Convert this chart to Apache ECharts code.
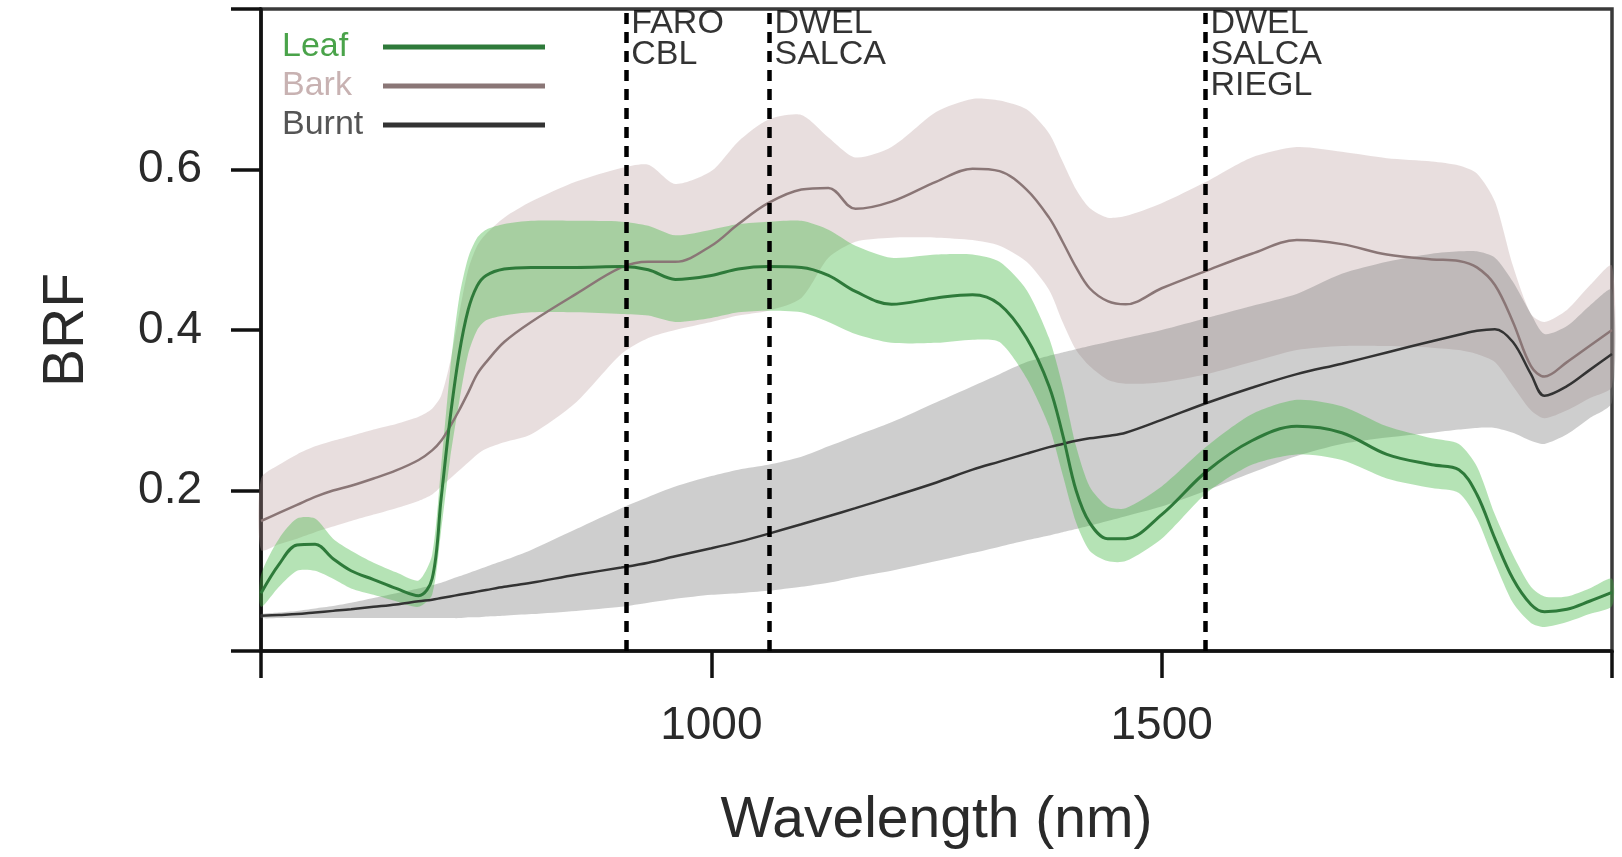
<!DOCTYPE html>
<html>
<head>
<meta charset="utf-8">
<script src="https://cdn.jsdelivr.net/npm/echarts@6/dist/echarts.min.js"></script>
<style>
html,body{margin:0;padding:0;background:#fff;}
#chart{width:1622px;height:857px;}
</style>
</head>
<body>
<div id="chart"></div>
<script>
// ---- data ----
const wavelengths = [500,520,540,560,580,600,625,650,675,690,700,710,720,730,740,750,770,800,850,900,930,960,1000,1030,1063,1100,1130,1160,1200,1250,1290,1320,1350,1375,1390,1405,1420,1440,1460,1500,1550,1600,1650,1700,1750,1800,1830,1850,1870,1890,1910,1925,1950,1975,2000];

const leafMean  = [0.072,0.108,0.132,0.133,0.115,0.100,0.089,0.078,0.069,0.090,0.190,0.290,0.370,0.425,0.455,0.468,0.476,0.478,0.478,0.479,0.475,0.463,0.468,0.476,0.479,0.478,0.468,0.448,0.432,0.440,0.444,0.432,0.390,0.330,0.270,0.200,0.160,0.140,0.140,0.170,0.224,0.262,0.280,0.272,0.245,0.232,0.226,0.195,0.140,0.090,0.058,0.049,0.052,0.062,0.073];
const leafUpper = [0.095,0.140,0.165,0.165,0.140,0.125,0.110,0.098,0.088,0.120,0.230,0.350,0.440,0.490,0.515,0.525,0.532,0.536,0.536,0.535,0.530,0.518,0.525,0.532,0.535,0.536,0.525,0.505,0.490,0.494,0.494,0.485,0.450,0.390,0.330,0.255,0.205,0.180,0.178,0.205,0.255,0.295,0.313,0.305,0.280,0.265,0.258,0.230,0.170,0.120,0.080,0.068,0.068,0.078,0.090];
const leafLower = [0.055,0.080,0.100,0.100,0.090,0.078,0.070,0.062,0.055,0.070,0.150,0.240,0.310,0.370,0.400,0.412,0.418,0.422,0.422,0.420,0.418,0.410,0.415,0.422,0.424,0.422,0.410,0.395,0.384,0.384,0.388,0.385,0.340,0.280,0.220,0.160,0.125,0.112,0.112,0.140,0.197,0.232,0.245,0.238,0.215,0.203,0.197,0.165,0.110,0.060,0.035,0.030,0.036,0.046,0.056];

const barkMean  = [0.162,0.172,0.182,0.192,0.200,0.206,0.215,0.225,0.238,0.250,0.262,0.280,0.300,0.322,0.345,0.360,0.385,0.410,0.445,0.478,0.485,0.485,0.505,0.532,0.558,0.575,0.577,0.551,0.560,0.585,0.601,0.598,0.575,0.540,0.510,0.478,0.452,0.436,0.432,0.452,0.474,0.495,0.512,0.507,0.494,0.488,0.486,0.478,0.456,0.410,0.355,0.342,0.360,0.380,0.400];
const barkUpper = [0.215,0.232,0.245,0.255,0.262,0.268,0.276,0.283,0.292,0.302,0.318,0.360,0.420,0.475,0.505,0.520,0.540,0.560,0.585,0.602,0.606,0.582,0.598,0.635,0.662,0.668,0.640,0.615,0.628,0.672,0.688,0.686,0.675,0.645,0.610,0.575,0.552,0.540,0.542,0.558,0.585,0.615,0.628,0.622,0.614,0.610,0.605,0.595,0.560,0.480,0.420,0.410,0.425,0.455,0.480];
const barkLower = [0.126,0.133,0.140,0.148,0.155,0.162,0.170,0.178,0.187,0.195,0.205,0.215,0.225,0.235,0.245,0.252,0.260,0.270,0.310,0.370,0.390,0.400,0.410,0.418,0.424,0.440,0.490,0.510,0.515,0.515,0.512,0.505,0.485,0.450,0.410,0.375,0.355,0.338,0.333,0.335,0.345,0.360,0.375,0.380,0.380,0.378,0.375,0.370,0.360,0.330,0.300,0.290,0.300,0.315,0.330];

const burntMean  = [0.044,0.045,0.046,0.048,0.050,0.052,0.055,0.058,0.062,0.064,0.066,0.068,0.070,0.072,0.074,0.076,0.080,0.085,0.095,0.104,0.110,0.118,0.128,0.136,0.146,0.158,0.168,0.178,0.192,0.210,0.226,0.236,0.246,0.254,0.258,0.262,0.265,0.268,0.272,0.288,0.309,0.328,0.345,0.358,0.372,0.386,0.394,0.399,0.401,0.385,0.345,0.318,0.330,0.350,0.370];
const burntUpper = [0.046,0.048,0.050,0.053,0.056,0.060,0.066,0.072,0.078,0.082,0.085,0.089,0.093,0.097,0.101,0.105,0.113,0.126,0.152,0.178,0.192,0.205,0.218,0.226,0.232,0.242,0.255,0.268,0.285,0.310,0.330,0.345,0.360,0.368,0.372,0.376,0.380,0.385,0.390,0.400,0.415,0.430,0.445,0.470,0.485,0.495,0.498,0.498,0.490,0.460,0.420,0.395,0.405,0.430,0.450];
const burntLower = [0.041,0.041,0.041,0.041,0.041,0.041,0.041,0.041,0.041,0.041,0.041,0.041,0.041,0.042,0.042,0.043,0.044,0.046,0.050,0.055,0.060,0.065,0.070,0.072,0.075,0.080,0.085,0.092,0.100,0.112,0.122,0.130,0.138,0.144,0.148,0.152,0.156,0.162,0.168,0.180,0.200,0.222,0.243,0.258,0.266,0.272,0.276,0.278,0.278,0.272,0.262,0.258,0.270,0.290,0.310];

const laserWavelengths = [905, 1064, 1548];
const laserLabels = ['FARO\nCBL', 'DWEL\nSALCA', 'DWEL\nSALCA\nRIEGL'];

const xTickLabels = [1000, 1500];
const yTickLabels = [0.2, 0.4, 0.6];

const seriesNames = ['Leaf', 'Bark', 'Burnt'];
const legendTextColors = ['#4aa34a', '#c8b2b2', '#555555'];

// ---- chart ----
const FONT = "'Liberation Sans', Arial, Helvetica, sans-serif";
const chart = echarts.init(document.getElementById('chart'), null, {renderer: 'canvas'});

function pairs(arr) { return wavelengths.map((w, i) => [w, arr[i]]); }

function band(name, lower, upper, fill) {
  return {
    type: 'custom', name: name, silent: true, z: 1,
    data: [[wavelengths[0], lower[0]]],
    renderItem: function (params, api) {
      const pts = [];
      for (let i = 0; i < wavelengths.length; i++) pts.push(api.coord([wavelengths[i], upper[i]]));
      for (let i = wavelengths.length - 1; i >= 0; i--) pts.push(api.coord([wavelengths[i], lower[i]]));
      return { type: 'polygon', shape: { points: pts, smooth: 0.25 }, style: { fill: fill, stroke: null } };
    }
  };
}

function meanLine(name, arr, color, width) {
  return {
    type: 'line', name: name, data: pairs(arr), showSymbol: false, smooth: 0.35,
    z: 3, color: color, lineStyle: { color: color, width: width }, silent: true
  };
}

const option = {
  animation: false,
  backgroundColor: '#ffffff',
  grid: { left: 261, right: 10, top: 9, bottom: 206, show: true, borderColor: '#3a3a3a', borderWidth: 3.5, backgroundColor: 'transparent' },
  xAxis: {
    type: 'value', min: 500, max: 2000, interval: 500,
    axisLine: { show: true, lineStyle: { color: '#111', width: 3.5 } },
    axisTick: { show: true, length: 27, lineStyle: { color: '#111', width: 3.5 } },
    axisLabel: {
      fontSize: 46, fontFamily: FONT, color: '#2a2a2a', margin: 52,
      formatter: v => (xTickLabels.indexOf(v) >= 0 ? String(v) : '')
    },
    splitLine: { show: false },
    name: 'Wavelength (nm)', nameLocation: 'middle', nameGap: 142,
    nameTextStyle: { fontSize: 57, fontFamily: FONT, color: '#2a2a2a' }
  },
  yAxis: {
    type: 'value', min: 0, max: 0.8, interval: 0.2,
    axisLine: { show: true, lineStyle: { color: '#111', width: 3.5 } },
    axisTick: { show: true, length: 30, lineStyle: { color: '#111', width: 3.5 } },
    axisLabel: {
      fontSize: 46, fontFamily: FONT, color: '#2a2a2a', margin: 59,
      formatter: v => { const r = Math.round(v * 10) / 10; return yTickLabels.indexOf(r) >= 0 ? r.toFixed(1) : ''; }
    },
    splitLine: { show: false },
    name: 'BRF', nameLocation: 'middle', nameGap: 165,
    nameTextStyle: { fontSize: 57, fontFamily: FONT, color: '#2a2a2a' }
  },
  legend: {
    orient: 'vertical', left: 282, top: 30, align: 'right', padding: 0,
    itemWidth: 162, itemHeight: 5, itemGap: 5, icon: 'rect',
    formatter: name => '{t|' + name + '}',
    textStyle: {
      fontSize: 34, fontFamily: FONT, lineHeight: 34,
      rich: { t: { width: 96, align: 'left', fontSize: 34, fontFamily: FONT, lineHeight: 34 } }
    },
    data: seriesNames.map((n, i) => ({ name: n, textStyle: { color: legendTextColors[i] } }))
  },
  series: [
    band('Bark band', barkLower, barkUpper, 'rgba(185,155,155,0.33)'),
    band('Burnt band', burntLower, burntUpper, 'rgba(120,120,120,0.36)'),
    band('Leaf band', leafLower, leafUpper, 'rgba(70,185,70,0.40)'),
    meanLine('Burnt', burntMean, '#333333', 2.5),
    meanLine('Bark', barkMean, '#8a7676', 2.5),
    meanLine('Leaf', leafMean, '#2e7a3a', 3),
    {
      type: 'scatter', name: 'lasers', silent: true, z: 5, symbolSize: 1,
      itemStyle: { color: 'rgba(0,0,0,0)' },
      data: laserWavelengths.map((w, i) => ({ value: [w, 0.8], label: { formatter: laserLabels[i] } })),
      label: {
        show: true, position: [6, 0], align: 'left', verticalAlign: 'top',
        fontSize: 34, lineHeight: 31, fontFamily: FONT, color: '#000'
      },
      clip: false,
      markLine: {
        silent: true, symbol: ['none', 'none'], label: { show: false },
        lineStyle: { color: '#000', width: 4.5, type: [11, 8] },
        data: laserWavelengths.map(w => ({ xAxis: w }))
      }
    }
  ]
};
chart.setOption(option);
</script>
</body>
</html>
